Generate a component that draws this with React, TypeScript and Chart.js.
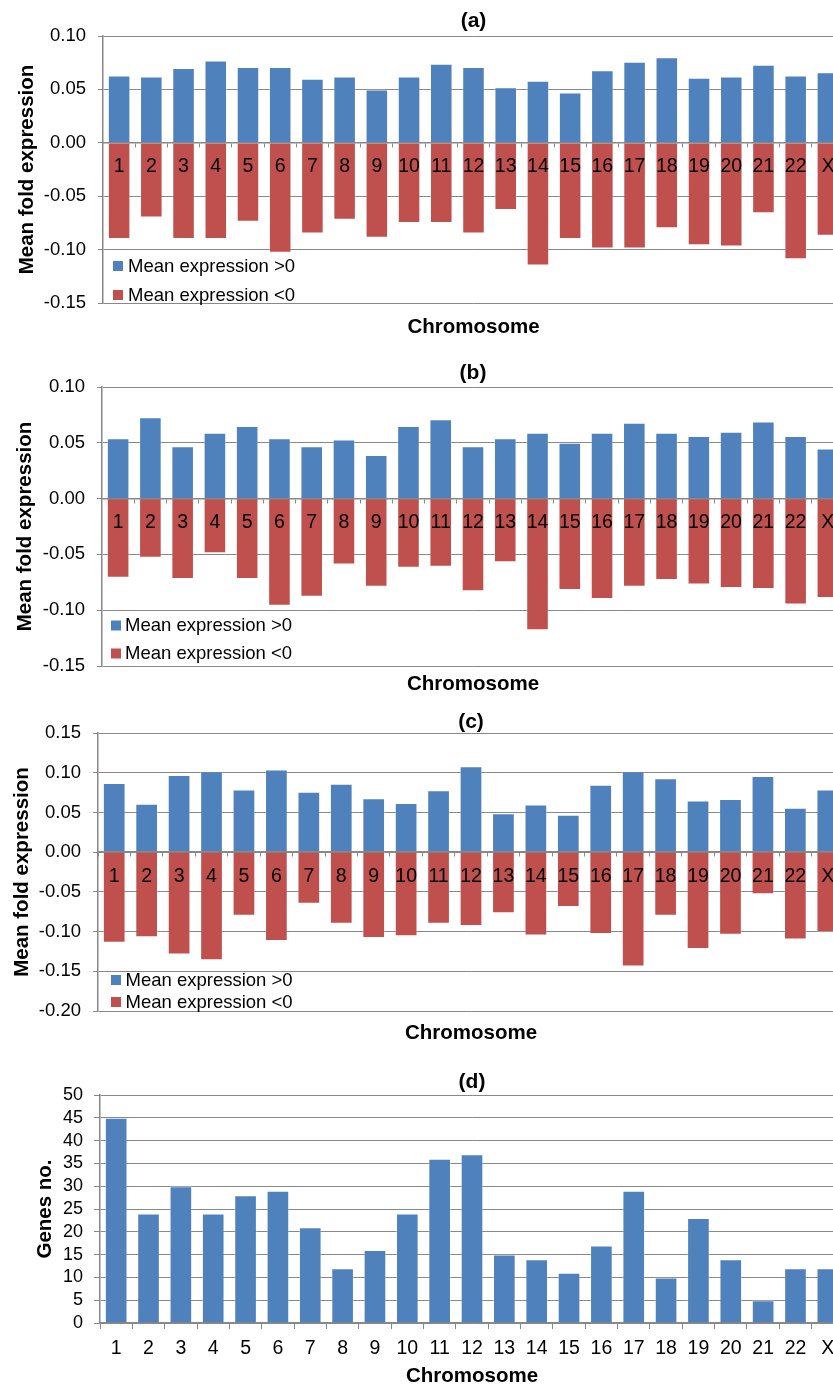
import React, { useEffect, useRef } from 'react';
import { Chart, registerables } from 'chart.js';

Chart.register(...registerables);

// ---------- data ----------
const chromosomes = ['1', '2', '3', '4', '5', '6', '7', '8', '9', '10', '11', '12', '13', '14', '15', '16', '17', '18', '19', '20', '21', '22', 'X'];

const seriesLabels = ['Mean expression >0', 'Mean expression <0'];

const aPositive = [0.063, 0.062, 0.070, 0.077, 0.071, 0.071, 0.060, 0.062, 0.050, 0.062, 0.074, 0.071, 0.052, 0.058, 0.047, 0.068, 0.076, 0.080, 0.061, 0.062, 0.073, 0.063, 0.066];
const aNegative = [-0.090, -0.070, -0.090, -0.090, -0.074, -0.103, -0.085, -0.072, -0.089, -0.075, -0.075, -0.085, -0.063, -0.115, -0.090, -0.099, -0.099, -0.080, -0.096, -0.097, -0.066, -0.109, -0.087];

const bPositive = [0.054, 0.073, 0.047, 0.059, 0.065, 0.054, 0.047, 0.053, 0.039, 0.065, 0.071, 0.047, 0.054, 0.059, 0.050, 0.059, 0.068, 0.059, 0.056, 0.060, 0.069, 0.056, 0.045];
const bNegative = [-0.071, -0.053, -0.072, -0.049, -0.072, -0.096, -0.088, -0.059, -0.079, -0.062, -0.061, -0.083, -0.057, -0.118, -0.082, -0.090, -0.079, -0.073, -0.077, -0.080, -0.081, -0.095, -0.089];

const cPositive = [0.087, 0.061, 0.097, 0.102, 0.079, 0.104, 0.076, 0.086, 0.068, 0.062, 0.078, 0.108, 0.049, 0.060, 0.047, 0.085, 0.102, 0.093, 0.065, 0.067, 0.096, 0.056, 0.079];
const cNegative = [-0.114, -0.107, -0.129, -0.136, -0.080, -0.112, -0.065, -0.090, -0.108, -0.106, -0.090, -0.093, -0.077, -0.105, -0.069, -0.103, -0.144, -0.080, -0.122, -0.104, -0.053, -0.110, -0.101];

const geneCounts = [45, 24, 30, 24, 28, 29, 21, 12, 16, 24, 36, 37, 15, 14, 11, 17, 29, 10, 23, 14, 5, 12, 12];

const panelTitles = ['(a)', '(b)', '(c)', '(d)'];
const xAxisTitle = 'Chromosome';
const yAxisTitleFold = 'Mean fold expression';
const yAxisTitleGenes = 'Genes no.';

// y-axis ranges [min, max, step]
const aRange = [-0.15, 0.10, 0.05];
const bRange = [-0.15, 0.10, 0.05];
const cRange = [-0.20, 0.15, 0.05];
const dRange = [0, 50, 5];

// ---------- style ----------
const FONT = "'Liberation Sans', Arial, Helvetica, sans-serif";
const BLUE = '#4F81BD';
const RED = '#C0504D';
const GRID = '#888888';
const CANVAS_W = 860;
const PLOT_RIGHT = 844;

type DecorCfg = {
  title: string;
  titleY: number;
  xTitle: string;
  xTitleY: number;
  yTitle: string;
  yTitleX: number;
  legend?: { boxX: number; textX: number; offsets: number[] };
};

function decorPlugin(cfg: DecorCfg) {
  return {
    id: 'decor',
    afterDraw(chart: any) {
      const { ctx, chartArea: ca } = chart;
      const cx = (ca.left + ca.right) / 2;
      const cy = (ca.top + ca.bottom) / 2;
      ctx.save();
      ctx.fillStyle = '#000';
      ctx.textAlign = 'center';
      ctx.textBaseline = 'middle';
      ctx.font = `bold 21px ${FONT}`;
      ctx.fillText(cfg.title, cx, cfg.titleY);
      ctx.font = `bold 20.5px ${FONT}`;
      ctx.fillText(cfg.xTitle, cx, cfg.xTitleY);
      ctx.save();
      ctx.translate(cfg.yTitleX, cy);
      ctx.rotate(-Math.PI / 2);
      ctx.fillText(cfg.yTitle, 0, 0);
      ctx.restore();
      if (cfg.legend) {
        const lg = cfg.legend;
        ctx.font = `18.5px ${FONT}`;
        ctx.textAlign = 'left';
        chart.data.datasets.forEach((ds: any, i: number) => {
          const y = ca.bottom - lg.offsets[i];
          ctx.fillStyle = ds.backgroundColor;
          ctx.fillRect(lg.boxX, y - 5, 10, 10);
          ctx.fillStyle = '#000';
          ctx.fillText(ds.label, lg.textX, y + 0.5);
        });
      }
      ctx.restore();
    },
  };
}

function fmt2(v: number) {
  if (Math.abs(v) < 1e-9) return '0.00';
  return v.toFixed(2);
}

type PanelSpec = {
  top: number;
  height: number;
  kind: 'diverging' | 'counts';
  pos?: number[];
  neg?: number[];
  counts?: number[];
  range: number[];
  plotTop: number;
  plotBottom: number;
  plotLeft: number;
  decor: DecorCfg;
};

function buildConfig(p: PanelSpec): any {
  const padTop = p.plotTop - p.top;
  const padRight = CANVAS_W - PLOT_RIGHT;
  const barCommon = {
    barPercentage: 0.7,
    categoryPercentage: 1,
    borderWidth: 1,
    borderColor: 'rgba(255,255,255,0.35)',
  };
  const yScale = {
    min: p.range[0],
    max: p.range[1],
    stacked: p.kind === 'diverging',
    afterFit: (s: any) => {
      s.width = p.plotLeft;
    },
    ticks: {
      stepSize: p.range[2],
      autoSkip: false,
      color: '#000',
      font: { family: FONT, size: p.kind === 'diverging' ? 18.5 : 18 },
      padding: p.kind === 'diverging' ? 12 : 11,
      callback: (v: any) => (p.kind === 'diverging' ? fmt2(Number(v)) : String(v)),
    },
    grid: {
      color: GRID,
      lineWidth: 1,
      drawTicks: true,
      tickLength: p.kind === 'diverging' ? 5 : 6,
    },
    border: { display: true, color: GRID, width: 1.5 },
  };

  if (p.kind === 'diverging') {
    const padBottom = p.top + p.height - p.plotBottom;
    return {
      type: 'bar',
      data: {
        labels: chromosomes,
        datasets: [
          { label: seriesLabels[0], data: p.pos, backgroundColor: BLUE, ...barCommon },
          { label: seriesLabels[1], data: p.neg, backgroundColor: RED, ...barCommon },
        ],
      },
      options: {
        responsive: false,
        animation: false,
        events: [],
        layout: { padding: { top: padTop, bottom: padBottom, left: 0, right: padRight } },
        plugins: { legend: { display: false }, tooltip: { enabled: false }, title: { display: false } },
        scales: {
          x: {
            stacked: true,
            position: { y: 0 },
            offset: true,
            grid: {
              display: true,
              offset: true,
              drawOnChartArea: false,
              drawTicks: true,
              tickLength: 4,
              color: GRID,
              lineWidth: 1,
              z: 1,
            },
            border: { display: true, color: GRID, width: 1.5, z: 1 },
            ticks: {
              color: '#000',
              font: { family: FONT, size: 19.5 },
              padding: 8.5,
              maxRotation: 0,
              minRotation: 0,
              autoSkip: false,
              z: 1,
            },
          },
          y: yScale,
        },
      },
      plugins: [decorPlugin(p.decor)],
    };
  }
  const xHeight = p.top + p.height - p.plotBottom;
  return {
    type: 'bar',
    data: {
      labels: chromosomes,
      datasets: [{ label: 'Genes no.', data: p.counts, backgroundColor: BLUE, ...barCommon }],
    },
    options: {
      responsive: false,
      animation: false,
      events: [],
      layout: { padding: { top: padTop, bottom: 0, left: 0, right: padRight } },
      plugins: { legend: { display: false }, tooltip: { enabled: false }, title: { display: false } },
      scales: {
        x: {
          position: 'bottom',
          offset: true,
          afterFit: (s: any) => {
            s.height = xHeight;
          },
          grid: {
            display: true,
            offset: true,
            drawOnChartArea: false,
            drawTicks: true,
            tickLength: 6,
            color: GRID,
            lineWidth: 1,
          },
          border: { display: true, color: GRID, width: 1.5 },
          ticks: {
            color: '#000',
            font: { family: FONT, size: 19.5 },
            padding: 7.5,
            maxRotation: 0,
            minRotation: 0,
            autoSkip: false,
          },
        },
        y: yScale,
      },
    },
    plugins: [decorPlugin(p.decor)],
  };
}

const panels: PanelSpec[] = [
  {
    top: 0,
    height: 345,
    kind: 'diverging',
    pos: aPositive,
    neg: aNegative,
    range: aRange,
    plotTop: 36,
    plotBottom: 303,
    plotLeft: 103,
    decor: {
      title: panelTitles[0],
      titleY: 21,
      xTitle: xAxisTitle,
      xTitleY: 327.5,
      yTitle: yAxisTitleFold,
      yTitleX: 27,
      legend: { boxX: 113, textX: 128, offsets: [37, 8] },
    },
  },
  {
    top: 345,
    height: 350,
    kind: 'diverging',
    pos: bPositive,
    neg: bNegative,
    range: bRange,
    plotTop: 387,
    plotBottom: 666,
    plotLeft: 102,
    decor: {
      title: panelTitles[1],
      titleY: 28,
      xTitle: xAxisTitle,
      xTitleY: 339,
      yTitle: yAxisTitleFold,
      yTitleX: 25,
      legend: { boxX: 111, textX: 125, offsets: [40.5, 12.5] },
    },
  },
  {
    top: 695,
    height: 350,
    kind: 'diverging',
    pos: cPositive,
    neg: cNegative,
    range: cRange,
    plotTop: 733,
    plotBottom: 1011,
    plotLeft: 98,
    decor: {
      title: panelTitles[2],
      titleY: 27,
      xTitle: xAxisTitle,
      xTitleY: 338,
      yTitle: yAxisTitleFold,
      yTitleX: 22,
      legend: { boxX: 111, textX: 125.5, offsets: [31, 9] },
    },
  },
  {
    top: 1045,
    height: 340,
    kind: 'counts',
    counts: geneCounts,
    range: dRange,
    plotTop: 1095,
    plotBottom: 1323,
    plotLeft: 100,
    decor: {
      title: panelTitles[3],
      titleY: 37,
      xTitle: xAxisTitle,
      xTitleY: 331.5,
      yTitle: yAxisTitleGenes,
      yTitleX: 45,
    },
  },
];

function PanelChart({ spec }: { spec: PanelSpec }) {
  const ref = useRef<HTMLCanvasElement | null>(null);
  useEffect(() => {
    if (!ref.current) return;
    const chart = new Chart(ref.current, buildConfig(spec));
    return () => chart.destroy();
  }, [spec]);
  return (
    <canvas
      ref={ref}
      width={CANVAS_W}
      height={spec.height}
      style={{ position: 'absolute', left: 0, top: spec.top, width: CANVAS_W, height: spec.height, display: 'block' }}
    />
  );
}

export default function App() {
  return (
    <div
      style={{
        position: 'absolute',
        left: 0,
        top: 0,
        width: 833,
        height: 1385,
        overflow: 'hidden',
        background: '#fff',
      }}
    >
      {panels.map((p, i) => (
        <PanelChart key={i} spec={p} />
      ))}
    </div>
  );
}
